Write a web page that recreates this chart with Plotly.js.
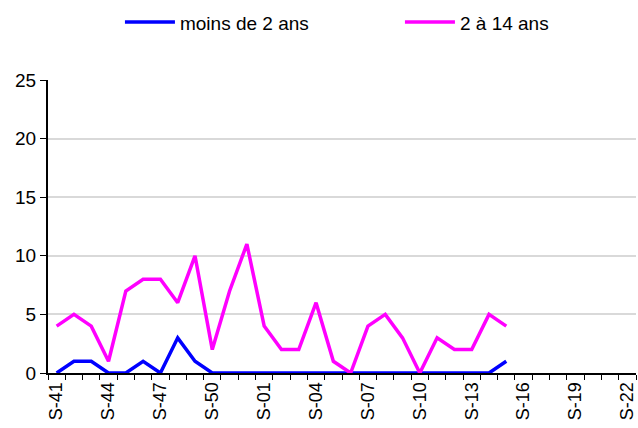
<!DOCTYPE html>
<html><head><meta charset="utf-8">
<script src="https://cdn.plot.ly/plotly-3.0.1.min.js"></script>
<style>body{margin:0;padding:0;background:#fff}#c{width:638px;height:428px}</style>
</head><body><div id="c"></div>
<script>
const weeks = ["S-41","S-42","S-43","S-44","S-45","S-46","S-47","S-48","S-49","S-50","S-51","S-52",
"S-01","S-02","S-03","S-04","S-05","S-06","S-07","S-08","S-09","S-10","S-11","S-12","S-13","S-14","S-15",
"S-16","S-17","S-18","S-19","S-20","S-21","S-22"];
const moinsDe2 = [0,1,1,0,0,1,0,3,1,0,0,0, 0,0,0,0,0,0,0,0,0,0,0,0,0,0,1];
const de2a14 = [4,5,4,1,7,8,8,6,10,2,7,11, 4,2,2,6,1,0,4,5,3,0,3,2,2,5,4];
const labelEvery = 3;
const tickText = weeks.map((w,i)=> i % labelEvery === 0 ? w : "");

const traces = [
  {x: weeks.slice(0, moinsDe2.length), y: moinsDe2, name: "moins de 2 ans", type: "scatter", mode: "lines",
   line: {color: "#0000FF", width: 3.5}},
  {x: weeks.slice(0, de2a14.length), y: de2a14, name: "2 à 14 ans", type: "scatter", mode: "lines",
   line: {color: "#FF00FF", width: 3.5}}
];
const layout = {
  width: 638, height: 428,
  margin: {l: 48, r: 2, t: 80, b: 55},
  paper_bgcolor: "#fff", plot_bgcolor: "#fff",
  font: {family: "Liberation Sans, Arial, sans-serif", size: 18, color: "#000"},
  showlegend: true,
  legend: {orientation: "h", x: 0.188, xref: "container", xanchor: "left", y: 0.948, yref: "container", yanchor: "middle",
           font: {size: 19}, itemwidth: 50, entrywidth: 215, entrywidthmode: "pixels", tracegroupgap: 0},
  xaxis: {type: "category", categoryorder: "array", categoryarray: weeks,
          range: [-0.5, weeks.length - 0.5],
          tickmode: "array", tickvals: weeks, ticktext: tickText, tickson: "boundaries",
          ticks: "outside", ticklen: 5, tickcolor: "#000", tickangle: -90,
          showline: true, linecolor: "#000", linewidth: 2, showgrid: false, zeroline: false,
          tickfont: {size: 18}},
  yaxis: {range: [0, 25], dtick: 5, tick0: 0, ticks: "outside", ticklen: 6, tickcolor: "#000",
          showline: true, linecolor: "#000", linewidth: 2,
          showgrid: true, gridcolor: "#d9d9d9", gridwidth: 1.5, zeroline: false,
          tickfont: {size: 19}}
};
Plotly.newPlot("c", traces, layout, {displayModeBar: false});
</script></body></html>
